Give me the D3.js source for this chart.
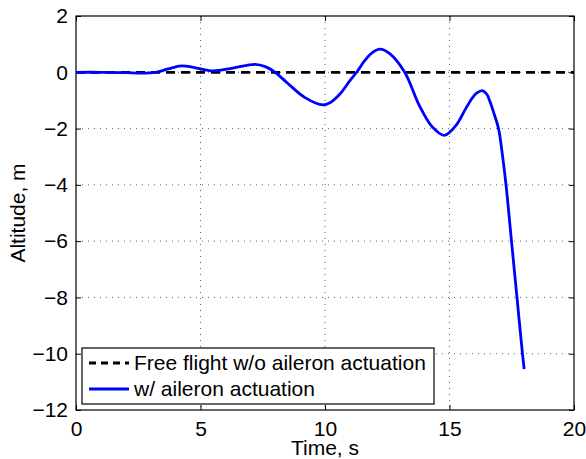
<!DOCTYPE html>
<html>
<head>
<meta charset="utf-8">
<style>
body { margin: 0; background: #fff; }
text { font-family: "Liberation Sans", Arial, Helvetica, sans-serif; fill: #000; }
.grid line { stroke: #000; stroke-opacity: .6; stroke-dasharray: 1,5; }
</style>
<script src="https://d3js.org/d3.v7.min.js"></script>
</head>
<body>
<div id="chart"></div>
<script>

	// time (s) and altitude (m)
	var timeAct = [0, 1, 2, 2.6, 3.2, 3.7, 4.24, 4.8, 5.5, 6.3, 7.19, 7.6, 8.0, 8.5, 9.2, 9.92, 10.2, 10.6, 11.0, 11.27, 11.6, 11.9, 12.21, 12.6, 13.2, 13.8, 14.3, 14.79, 15.3, 15.6, 15.9, 16.1, 16.32, 16.5, 16.65, 16.8, 16.97, 17.12, 17.27, 17.49, 17.71, 17.93, 18.0];
	var altAct  = [0, 0, -0.01, -0.03, 0.0, 0.12, 0.23, 0.16, 0.05, 0.15, 0.28, 0.2, 0.0, -0.39, -0.9, -1.16, -1.08, -0.77, -0.3, 0.0, 0.42, 0.7, 0.82, 0.66, 0.0, -1.2, -1.93, -2.24, -1.84, -1.37, -0.93, -0.73, -0.65, -0.78, -1.1, -1.5, -2.0, -2.9, -4.0, -6.0, -8.0, -10.0, -10.55];
	var timeFree = [0, 20];
	var altFree  = [0, 0];

	var xTicks = [0, 5, 10, 15, 20];
	var yTicks = [2, 0, -2, -4, -6, -8, -10, -12];
	var legendLabels = ['Free flight w/o aileron actuation', 'w/ aileron actuation'];

	var W = 586, H = 459, fs = 21;
	var margin = {top: 16, right: 12, bottom: 49, left: 76},
	    width = W - margin.left - margin.right,
	    height = H - margin.top - margin.bottom;

	var x = d3.scaleLinear().domain([0, 20]).range([0, width]);
	var y = d3.scaleLinear().domain([-12, 2]).range([height, 0]);

	var svg = d3.select('#chart').append('svg')
		.attr('width', W)
		.attr('height', H)
	.append('g')
		.attr('transform', 'translate(' + margin.left + ',' + margin.top + ')');

	// grid
	svg.append('g').attr('class', 'grid')
		.selectAll('line.v').data(xTicks.slice(1, -1)).enter().append('line')
		.attr('x1', function(d) { return x(d); }).attr('x2', function(d) { return x(d); })
		.attr('y1', 0).attr('y2', height);
	svg.append('g').attr('class', 'grid')
		.selectAll('line.h').data(yTicks.slice(1, -1)).enter().append('line')
		.attr('y1', function(d) { return y(d); }).attr('y2', function(d) { return y(d); })
		.attr('x1', 0).attr('x2', width);

	// axes, ticks inward on all four sides
	function styleAxis(g) {
		g.select('.domain').remove();
		g.selectAll('line').attr('stroke', '#000');
		g.selectAll('text').attr('font-size', fs).attr('font-family', '"Liberation Sans", Arial, sans-serif');
	}
	svg.append('g')
		.attr('transform', 'translate(0,' + height + ')')
		.call(d3.axisBottom(x).tickValues(xTicks).tickSizeInner(-5).tickPadding(11))
		.call(styleAxis);
	svg.append('g')
		.call(d3.axisLeft(y).tickValues(yTicks).tickSizeInner(-5).tickPadding(8).tickFormat(function(d) { return d < 0 ? '\u2212' + (-d) : d; }))
		.call(styleAxis);
	svg.append('g')
		.call(d3.axisTop(x).tickValues(xTicks).tickSizeInner(-5).tickFormat(''))
		.call(styleAxis);
	svg.append('g')
		.attr('transform', 'translate(' + width + ',0)')
		.call(d3.axisRight(y).tickValues(yTicks).tickSizeInner(-5).tickFormat(''))
		.call(styleAxis);

	svg.append('rect')
		.attr('width', width).attr('height', height)
		.attr('fill', 'none').attr('stroke', '#000').attr('stroke-width', 1.2);

	var line = d3.line()
		.x(function(d) { return x(d[0]); })
		.y(function(d) { return y(d[1]); });

	svg.append('path')
		.datum(d3.zip(timeFree, altFree))
		.attr('fill', 'none').attr('stroke', '#000')
		.attr('stroke-width', 2.8).attr('stroke-dasharray', '9,6')
		.attr('d', line);

	svg.append('path')
		.datum(d3.zip(timeAct, altAct))
		.attr('fill', 'none').attr('stroke', '#0000ff')
		.attr('stroke-width', 2.8).attr('stroke-linejoin', 'round')
		.attr('d', line.curve(d3.curveCatmullRom.alpha(0.5)));

	// labels
	svg.append('text')
		.attr('x', width / 2).attr('y', height + 45)
		.attr('text-anchor', 'middle').attr('font-size', fs)
		.text('Time, s');
	svg.append('text')
		.attr('transform', 'translate(-51,' + (height / 2) + ') rotate(-90)')
		.attr('text-anchor', 'middle').attr('font-size', fs)
		.text('Altitude, m');

	// legend
	var legend = svg.append('g').attr('transform', 'translate(6,' + (height - 62) + ')');
	legend.append('rect')
		.attr('width', 352).attr('height', 56)
		.attr('fill', '#fff').attr('stroke', '#000').attr('stroke-width', 1.2);
	legendLabels.forEach(function(label, i) {
		var ly = 15 + i * 26;
		legend.append('line')
			.attr('x1', 7).attr('x2', 47).attr('y1', ly).attr('y2', ly)
			.attr('stroke', i === 0 ? '#000' : '#0000ff')
			.attr('stroke-width', 2.8)
			.attr('stroke-dasharray', i === 0 ? '7,5' : null);
		legend.append('text')
			.attr('x', 52).attr('y', ly + 7)
			.attr('font-size', fs)
			.text(label);
	});

</script>
</body>
</html>
